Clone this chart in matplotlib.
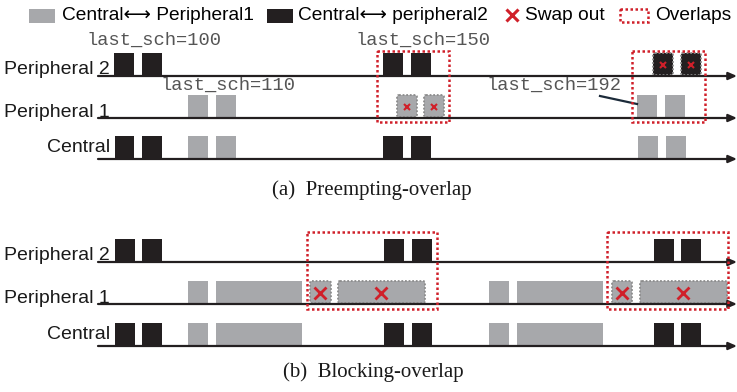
import matplotlib.pyplot as plt
from matplotlib.patches import Rectangle, FancyBboxPatch

GRAY = '#a7a8ab'
BLACK = '#231f20'
RED = '#d0202a'
SANS = ['Liberation Sans', 'DejaVu Sans']

row_names = ['Peripheral 2', 'Peripheral 1', 'Central']

# event spans (start, end) along the time axis
a_p2_black = [(114, 134), (142, 162), (383, 403), (411, 431)]
a_p2_swap = [(653, 673), (681, 701)]
a_p1_gray = [(188, 208), (216, 236), (637, 657), (665, 685)]
a_p1_swap = [(397, 417), (424, 444)]
a_c_black = [(115, 134), (142, 162), (383, 403), (411, 431)]
a_c_gray = [(188, 208), (216, 236), (638, 658), (666, 686)]
a_overlaps = [(377, 449), (632, 705)]

b_p2_black = [(115, 135), (142, 162), (384, 404), (412, 432), (654, 674), (681, 701)]
b_p1_gray = [(188, 208), (216, 302), (489, 509), (517, 603)]
b_p1_swap = [(310, 331), (338, 425), (612, 632), (640, 727)]
b_c_black = [(115, 135), (142, 162), (384, 404), (412, 432), (654, 674), (681, 701)]
b_c_gray = [(188, 208), (216, 302), (489, 509), (517, 603)]
b_overlaps = [(307, 437), (607, 728)]

# last_sch annotations: (text, x, y)
a_notes = [('last_sch=100', 87, 40), ('last_sch=150', 356, 40),
           ('last_sch=110', 161, 85), ('last_sch=192', 487, 85)]

legend_labels = ['Central\u27f7 Peripheral1', 'Central\u27f7 peripheral2',
                 'Swap out', 'Overlaps']

fig = plt.figure(figsize=(7.37, 3.92), dpi=100)
ax = fig.add_axes([0, 0, 1, 1])
ax.set_xlim(0, 737)
ax.set_ylim(392, 0)
ax.axis('off')

H = 23
label_off = [-2, -1, -7]


def bars(spans, base, color):
    ax.broken_barh([(s, e - s) for s, e in spans], (base - H, H),
                   facecolors=color, zorder=2)


def swapped(spans, base, color, ms, mew):
    for s, e in spans:
        ax.add_patch(FancyBboxPatch((s, base - H), e - s, H - 1,
                                    boxstyle='round,pad=0,rounding_size=2',
                                    fc=color, ec='#8c8c8c', lw=1.3,
                                    ls=(0, (1, 1)), zorder=2))
        ax.plot((s + e) / 2, base - H / 2, 'x', color=RED, ms=ms, mew=mew, zorder=4)


def timeline(lines, overlaps, top, bottom):
    for name, y, off in zip(row_names, lines, label_off):
        ax.annotate('', xy=(737, y), xytext=(98, y),
                    arrowprops=dict(arrowstyle='-|>,head_length=0.5,head_width=0.22',
                                    lw=1.6, color=BLACK, shrinkA=0, shrinkB=0),
                    zorder=3)
        ax.text(110, y + off, name, ha='right', va='baseline',
                family=SANS, fontsize=14, color='#1a1a1a')
    for x0, x1 in overlaps:
        ax.add_patch(Rectangle((x0, top), x1 - x0, bottom - top, fill=False,
                               ec=RED, lw=1.8, ls=(0, (1, 1)), zorder=5))


# (a) Preempting-overlap
lines_a = [76, 118, 159]
timeline(lines_a, a_overlaps, 51, 122)
bars(a_p2_black, lines_a[0], BLACK)
swapped(a_p2_swap, lines_a[0], BLACK, 4.5, 1.5)
bars(a_p1_gray, lines_a[1], GRAY)
swapped(a_p1_swap, lines_a[1], GRAY, 4.5, 1.5)
bars(a_c_black, lines_a[2], BLACK)
bars(a_c_gray, lines_a[2], GRAY)
for txt, x, y in a_notes:
    ax.text(x, y, txt, ha='left', va='center', family='Liberation Mono',
            fontsize=13.5, color='#555555')
ax.plot([600, 637], [96, 104], color='#1c2b3a', lw=1.6, zorder=4)

# (b) Blocking-overlap
lines_b = [262, 304, 346]
timeline(lines_b, b_overlaps, 232, 309)
bars(b_p2_black, lines_b[0], BLACK)
bars(b_p1_gray, lines_b[1], GRAY)
swapped(b_p1_swap, lines_b[1], GRAY, 9, 2)
bars(b_c_black, lines_b[2], BLACK)
bars(b_c_gray, lines_b[2], GRAY)

ax.text(372, 190, '(a)  Preempting-overlap', ha='center', va='center',
        family='Liberation Serif', fontsize=15, color='#1a1a1a')
ax.text(373, 372, '(b)  Blocking-overlap', ha='center', va='center',
        family='Liberation Serif', fontsize=15, color='#1a1a1a')

# legend row
ly = 15
ax.add_patch(Rectangle((29, 9), 26, 14, fc=GRAY, ec='none'))
ax.text(62, ly, legend_labels[0], va='center', family=SANS, fontsize=13.8)
ax.add_patch(Rectangle((267, 9), 26, 14, fc=BLACK, ec='none'))
ax.text(298, ly, legend_labels[1], va='center', family=SANS, fontsize=13.8)
ax.plot(512, 15, 'x', color=RED, ms=8, mew=2.2)
ax.text(525, ly, legend_labels[2], va='center', family=SANS, fontsize=13.8)
ax.add_patch(Rectangle((620, 9), 28, 13, fill=False, ec=RED, lw=1.8, ls=(0, (1, 1))))
ax.text(655, ly, legend_labels[3], va='center', family=SANS, fontsize=13.8)

fig.savefig('out.png', dpi=100)
